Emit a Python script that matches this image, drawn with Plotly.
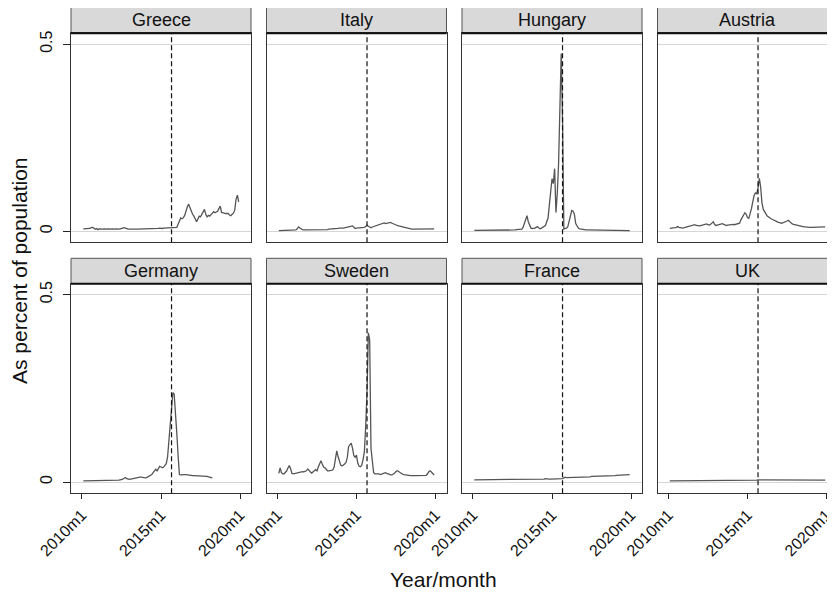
import plotly.graph_objects as go

countries = ["Greece", "Italy", "Hungary", "Austria", "Germany", "Sweden", "France", "UK"]

tick_vals = [0, 60, 120]
tick_text = ["2010m1", "2015m1", "2020m1"]
y_tick_vals = [0, 0.5]
y_tick_text = ["0", "0.5"]
event_month = 68  # 2015m9

greece = [0.006,0.006,0.007,0.007,0.008,0.007,0.009,0.010,0.008,0.005,0.007,0.004,
          0.006,0.005,0.006,0.005,0.006,0.005,0.005,0.006,0.005,0.005,0.006,0.005,
          0.005,0.006,0.005,0.005,0.006,0.006,0.008,0.009,0.007,0.006,0.005,0.005,
          0.006,0.005,0.005,0.004,0.005,0.005,0.005,0.006,0.005,0.005,0.006,0.005,
          0.005,0.006,0.006,0.007,0.006,0.006,0.007,0.006,0.007,0.007,0.008,0.007,
          0.007,0.008,0.008,0.008,0.009,0.009,0.008,0.010,0.009,0.009,0.009,0.010,
          0.018,0.030,0.035,0.033,0.036,0.042,0.055,0.065,0.072,0.062,0.055,0.045,
          0.040,0.030,0.025,0.032,0.040,0.038,0.045,0.052,0.058,0.045,0.038,0.042,
          0.040,0.044,0.050,0.052,0.049,0.052,0.053,0.060,0.067,0.050,0.048,0.048,
          0.047,0.048,0.047,0.043,0.041,0.045,0.048,0.056,0.085,0.096,0.078]

italy = [0.001,0.001,0.001,0.001,0.001,0.001,0.002,0.001,0.002,0.002,0.002,0.002,
         0.002,0.003,0.006,0.011,0.008,0.005,0.004,0.003,0.003,0.003,0.002,0.003,
         0.003,0.003,0.003,0.003,0.003,0.003,0.003,0.003,0.004,0.004,0.004,0.004,
         0.004,0.004,0.005,0.005,0.005,0.006,0.006,0.006,0.007,0.007,0.008,0.007,
         0.008,0.008,0.009,0.009,0.010,0.010,0.011,0.012,0.014,0.010,0.007,0.008,
         0.008,0.009,0.009,0.010,0.010,0.010,0.012,0.016,0.013,0.010,0.009,0.011,
         0.012,0.013,0.014,0.015,0.016,0.018,0.019,0.020,0.022,0.020,0.021,0.020,
         0.022,0.023,0.021,0.019,0.018,0.016,0.015,0.014,0.013,0.012,0.010,0.009,
         0.008,0.007,0.007,0.006,0.006,0.005,0.005,0.005,0.005,0.005,0.005,0.004,
         0.005,0.005,0.005,0.005,0.004,0.005,0.005,0.005,0.005,0.006,0.006]

hungary = [0.002,0.002,0.002,0.002,0.002,0.002,0.002,0.002,0.002,0.003,0.002,0.002,
           0.002,0.001,0.002,0.002,0.002,0.002,0.002,0.002,0.002,0.002,0.002,0.002,
           0.002,0.002,0.002,0.002,0.002,0.002,0.003,0.003,0.004,0.004,0.003,0.004,
           0.005,0.010,0.020,0.035,0.041,0.025,0.013,0.008,0.007,0.007,0.008,0.010,
           0.012,0.008,0.006,0.008,0.010,0.012,0.015,0.025,0.035,0.070,0.115,0.140,
           0.127,0.167,0.050,0.100,0.180,0.300,0.475,0.300,0.005,0.007,0.008,0.012,
           0.025,0.045,0.055,0.053,0.045,0.020,0.012,0.008,0.006,0.005,0.005,0.004,
           0.004,0.003,0.003,0.003,0.003,0.003,0.003,0.002,0.002,0.002,0.002,0.002,
           0.002,0.001,0.001,0.001,0.001,0.001,0.001,0.001,0.001,0.001,0.001,0.001,
           0.001,0.001,0.001,0.001,0.001,0.001,0.001,0.001,0.001,0.001,0.001]

austria = [0.007,0.007,0.008,0.008,0.009,0.010,0.012,0.010,0.009,0.009,0.008,0.009,
           0.010,0.011,0.012,0.013,0.014,0.016,0.018,0.017,0.015,0.014,0.013,0.014,
           0.015,0.016,0.017,0.018,0.019,0.017,0.016,0.018,0.021,0.025,0.018,0.015,
           0.016,0.017,0.018,0.019,0.020,0.018,0.016,0.015,0.016,0.017,0.018,0.019,
           0.018,0.017,0.018,0.019,0.020,0.021,0.030,0.036,0.042,0.049,0.045,0.036,
           0.034,0.045,0.060,0.078,0.095,0.102,0.100,0.115,0.141,0.118,0.075,0.058,
           0.050,0.046,0.040,0.037,0.035,0.033,0.031,0.030,0.028,0.026,0.024,0.022,
           0.022,0.021,0.022,0.024,0.026,0.027,0.029,0.025,0.021,0.019,0.018,0.017,
           0.016,0.015,0.014,0.013,0.012,0.012,0.011,0.011,0.010,0.010,0.010,0.010,
           0.010,0.010,0.010,0.010,0.011,0.011,0.011,0.011,0.012,0.012,0.011]

germany = [0.003,0.003,0.003,0.003,0.003,0.004,0.004,0.004,0.004,0.004,0.004,0.004,
           0.004,0.004,0.004,0.004,0.004,0.004,0.004,0.004,0.004,0.004,0.005,0.005,
           0.005,0.005,0.005,0.005,0.006,0.006,0.008,0.010,0.012,0.009,0.007,0.007,
           0.008,0.009,0.010,0.010,0.010,0.011,0.012,0.013,0.013,0.012,0.011,0.011,
           0.012,0.014,0.016,0.018,0.020,0.025,0.030,0.034,0.030,0.038,0.042,0.040,
           0.038,0.040,0.045,0.049,0.067,0.110,0.160,0.210,0.238,0.235,0.190,0.130,
           0.070,0.020,0.019,0.020,0.020,0.020,0.020,0.019,0.019,0.018,0.018,0.017,
           0.017,0.017,0.017,0.017,0.017,0.016,0.016,0.016,0.015,0.015,0.015,0.014,
           0.013,0.012,0.011]

sweden = [0.023,0.038,0.025,0.022,0.022,0.025,0.030,0.038,0.044,0.035,0.023,0.022,
          0.023,0.023,0.024,0.025,0.025,0.026,0.028,0.027,0.028,0.030,0.035,0.030,
          0.027,0.024,0.026,0.030,0.033,0.030,0.040,0.050,0.057,0.048,0.040,0.038,
          0.034,0.030,0.030,0.030,0.030,0.032,0.040,0.060,0.083,0.068,0.055,0.045,
          0.043,0.045,0.048,0.052,0.065,0.095,0.100,0.104,0.090,0.070,0.066,0.072,
          0.050,0.042,0.041,0.045,0.060,0.082,0.150,0.240,0.398,0.380,0.090,0.045,
          0.025,0.022,0.021,0.022,0.022,0.020,0.021,0.022,0.024,0.025,0.023,0.021,
          0.020,0.019,0.019,0.021,0.024,0.028,0.030,0.028,0.025,0.022,0.021,0.020,
          0.019,0.018,0.017,0.016,0.017,0.017,0.016,0.017,0.017,0.017,0.016,0.016,
          0.016,0.017,0.017,0.017,0.018,0.022,0.028,0.030,0.027,0.022,0.019]

france = [0.006,0.006,0.006,0.006,0.006,0.006,0.006,0.006,0.006,0.007,0.006,0.006,
          0.006,0.006,0.007,0.007,0.007,0.007,0.007,0.007,0.007,0.007,0.007,0.007,
          0.007,0.007,0.007,0.007,0.007,0.008,0.007,0.007,0.008,0.008,0.008,0.008,
          0.008,0.008,0.008,0.008,0.008,0.008,0.008,0.008,0.008,0.008,0.008,0.008,
          0.008,0.008,0.008,0.008,0.008,0.008,0.009,0.008,0.008,0.008,0.008,0.008,
          0.008,0.009,0.009,0.009,0.009,0.009,0.009,0.009,0.011,0.013,0.012,0.012,
          0.012,0.012,0.012,0.013,0.013,0.013,0.013,0.013,0.013,0.014,0.013,0.014,
          0.014,0.014,0.014,0.014,0.014,0.015,0.015,0.015,0.015,0.015,0.015,0.015,
          0.016,0.016,0.016,0.016,0.016,0.016,0.017,0.017,0.017,0.017,0.017,0.017,
          0.018,0.018,0.018,0.018,0.018,0.018,0.019,0.019,0.020,0.019,0.020]

uk = [0.003,0.003,0.003,0.003,0.003,0.003,0.003,0.003,0.003,0.003,0.003,0.003,
      0.003,0.003,0.003,0.003,0.003,0.003,0.003,0.003,0.003,0.003,0.003,0.003,
      0.003,0.003,0.004,0.003,0.004,0.004,0.004,0.004,0.004,0.004,0.004,0.004,
      0.004,0.004,0.004,0.004,0.004,0.004,0.004,0.004,0.004,0.004,0.004,0.004,
      0.004,0.004,0.004,0.004,0.004,0.004,0.004,0.004,0.004,0.004,0.004,0.004,
      0.004,0.004,0.004,0.004,0.004,0.005,0.005,0.006,0.006,0.005,0.005,0.005,
      0.005,0.005,0.005,0.005,0.005,0.005,0.005,0.005,0.005,0.004,0.004,0.004,
      0.004,0.004,0.004,0.004,0.004,0.004,0.004,0.004,0.004,0.004,0.004,0.004,
      0.004,0.004,0.004,0.004,0.005,0.005,0.005,0.005,0.005,0.005,0.005,0.005,
      0.005,0.005,0.005,0.005,0.005,0.005,0.005,0.005,0.006,0.005,0.005]

series = [greece, italy, hungary, austria, germany, sweden, france, uk]

# ---------- layout geometry (screen pixels; page body has an 8px margin) ----------
OFF = 8
W, H = 827, 585
col_left = [71, 266.5, 462, 657.5]
col_w = 180
rows = [dict(head_top=7, plot_top=33.3, plot_bot=242.3),
        dict(head_top=258.3, plot_top=283.7, plot_bot=493.3)]
px_per_month = 1.3167
x_start = -8.35
y_range = [-0.030, 0.529]

def fx(p):
    return min((p - OFF) / W, 1.0)

def fy(p):
    return 1 - (p - OFF) / H

FONT = "Liberation Sans, Arial, Helvetica, sans-serif"
fig = go.Figure()
shapes = []
annotations = []

for i, (name, vals) in enumerate(zip(countries, series)):
    r, c = divmod(i, 4)
    idx = i + 1
    xa = "x" if idx == 1 else f"x{idx}"
    ya = "y" if idx == 1 else f"y{idx}"
    months = list(range(1, len(vals) + 1))
    fig.add_trace(go.Scatter(x=months, y=vals, mode="lines",
                             line=dict(color="#555555", width=1.3),
                             xaxis=xa, yaxis=ya, showlegend=False,
                             hoverinfo="skip"))
    left = col_left[c]
    right = min(left + col_w, W + OFF)
    row = rows[r]
    x_end = x_start + (right - left) / px_per_month
    xkey = "xaxis" if idx == 1 else f"xaxis{idx}"
    ykey = "yaxis" if idx == 1 else f"yaxis{idx}"
    bottom_row = (r == 1)
    first_col = (c == 0)
    fig.update_layout({
        xkey: dict(domain=[fx(left), fx(right)], range=[x_start, x_end],
                   anchor=ya, automargin=False, tickvals=tick_vals, ticktext=tick_text,
                   showticklabels=bottom_row, ticks="outside" if bottom_row else "",
                   ticklen=5, tickwidth=1, tickcolor="#222", tickangle=-45,
                   tickfont=dict(family=FONT, size=16, color="#111"),
                   showgrid=False, zeroline=False, showline=True, mirror=True,
                   linecolor="#333", linewidth=1.2),
        ykey: dict(domain=[fy(row["plot_bot"]), fy(row["plot_top"])], range=y_range,
                   anchor=xa, automargin=False, tickvals=y_tick_vals, ticktext=y_tick_text,
                   showticklabels=first_col, ticks="outside" if first_col else "",
                   ticklen=7, tickwidth=1, tickcolor="#222", tickangle=-90,
                   ticklabelstandoff=5,
                   tickfont=dict(family=FONT, size=16, color="#111"),
                   showgrid=True, gridcolor="#d6d6d6", gridwidth=1,
                   zeroline=False, showline=True, mirror=True,
                   linecolor="#333", linewidth=1.2),
    })
    # header strip
    shapes.append(dict(type="rect", xref="paper", yref="paper",
                       x0=fx(left), x1=fx(right), y0=fy(row["plot_top"]), y1=fy(row["head_top"]),
                       fillcolor="#d9d9d9", line=dict(color="#555", width=1), layer="below"))
    shapes.append(dict(type="line", xref="paper", yref="paper",
                       x0=fx(left), x1=fx(right), y0=fy(row["plot_top"]), y1=fy(row["plot_top"]),
                       line=dict(color="#111", width=2)))
    annotations.append(dict(text=name, xref="paper", yref="paper",
                            x=fx(left + col_w / 2), y=fy((row["head_top"] + row["plot_top"]) / 2),
                            xanchor="center", yanchor="middle", showarrow=False,
                            font=dict(family=FONT, size=18, color="#111")))
    # event line
    shapes.append(dict(type="line", xref=xa, yref=f"{ya} domain",
                       x0=event_month, x1=event_month, y0=0, y1=1,
                       line=dict(color="#111", width=1.2, dash="5px,3px")))

annotations.append(dict(text="As percent of population", xref="paper", yref="paper",
                        x=fx(19), y=fy(271), textangle=-90, showarrow=False,
                        xanchor="center", yanchor="middle",
                        font=dict(family=FONT, size=21, color="#111")))
annotations.append(dict(text="Year/month", xref="paper", yref="paper",
                        x=fx(443), y=fy(579), showarrow=False,
                        xanchor="center", yanchor="middle",
                        font=dict(family=FONT, size=21, color="#111")))

fig.update_layout(width=W, height=H, margin=dict(l=0, r=0, t=0, b=0),
                  paper_bgcolor="white", plot_bgcolor="white",
                  shapes=shapes, annotations=annotations,
                  font=dict(family=FONT))

fig.write_html("out.html")
